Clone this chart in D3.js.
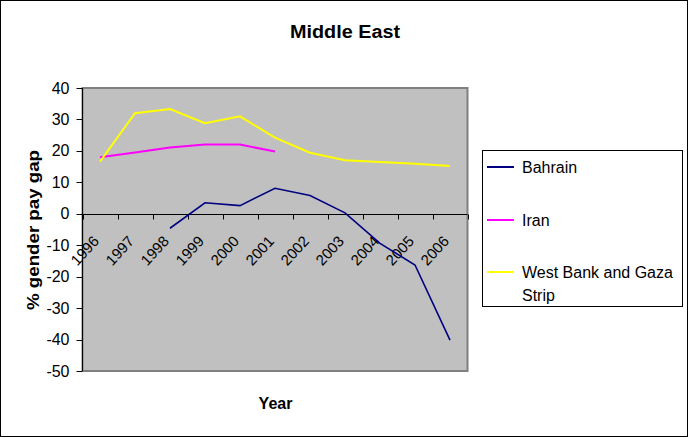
<!DOCTYPE html>
<html><head><meta charset="utf-8">
<script src="https://cdn.jsdelivr.net/npm/d3@7"></script>
<style>body{margin:0;background:#fff}svg{display:block;font-family:"Liberation Sans",Arial,sans-serif}</style>
</head><body>
<svg id="c" width="688" height="437"></svg>
<script>
const years = ["1996","1997","1998","1999","2000","2001","2002","2003","2004","2005","2006"];
const bahrain = [null,null,-4.6,3.5,2.6,8.1,5.8,0.3,-9.4,-16.3,-40.2];
const iran = [18.0,19.5,21.1,22.0,22.0,19.8,null,null,null,null,null];
const westBank = [16.6,32.0,33.3,28.8,31.0,24.2,19.4,17.0,16.5,15.9,15.2];
const yTicks = [40,30,20,10,0,-10,-20,-30,-40,-50];
const seriesNames = ["Bahrain","Iran","West Bank and Gaza Strip"];
const seriesColors = ["#000080","#FF00FF","#FFFF00"];

const svg = d3.select("#c");
svg.append("rect").attr("x",0.5).attr("y",0.5).attr("width",687).attr("height",436)
  .attr("fill","#fff").attr("stroke","#000");

const L=82.5, R=467.5, T=88, B=371;
const x = d3.scaleBand().domain(years).range([L,R]);
const y = d3.scaleLinear().domain([-50,40]).range([B,T]);

svg.append("rect").attr("x",L).attr("y",T).attr("width",R-L).attr("height",B-T)
  .attr("fill","#C0C0C0").attr("stroke","#808080").attr("stroke-width",2);

// y axis
const yAxis = svg.append("g");
yAxis.append("line").attr("x1",L).attr("x2",L).attr("y1",T).attr("y2",B).attr("stroke","#000");
yAxis.selectAll("line.t").data(yTicks).join("line").attr("class","t")
  .attr("x1",L-6).attr("x2",L).attr("y1",d=>Math.round(y(d))+0.5).attr("y2",d=>Math.round(y(d))+0.5).attr("stroke","#000");
yAxis.selectAll("text").data(yTicks).join("text")
  .attr("x",69.5).attr("y",d=>y(d)).attr("dy","0.35em").attr("text-anchor","end")
  .attr("font-size",16).text(d=>d);

// x axis at zero
const y0 = Math.round(y(0))+0.5;
svg.append("line").attr("x1",L).attr("x2",R).attr("y1",y0).attr("y2",y0).attr("stroke","#000");
const bounds = years.map(d=>x(d)).concat([R]);
svg.selectAll("line.xt").data(bounds).join("line").attr("class","xt")
  .attr("x1",d=>Math.round(d)+0.5).attr("x2",d=>Math.round(d)+0.5).attr("y1",y0).attr("y2",y0+5).attr("stroke","#000");
svg.selectAll("text.xl").data(years).join("text").attr("class","xl")
  .attr("transform",d=>`translate(${x(d)+x.bandwidth()/2},242) rotate(-47)`)
  .attr("text-anchor","end").attr("font-size",15).text(d=>d);

// lines
const lineGen = d3.line().defined(d=>d.v!=null).x(d=>x(d.yr)+x.bandwidth()/2).y(d=>y(d.v));
[bahrain,iran,westBank].forEach((arr,i)=>{
  const pts = years.map((yr,j)=>({yr,v:arr[j]}));
  svg.append("path").attr("d",lineGen(pts)).attr("fill","none")
    .attr("stroke",seriesColors[i]).attr("stroke-width",i===0?1.6:2).attr("stroke-linejoin","miter");
});

// titles
svg.append("text").attr("x",345).attr("y",38).attr("text-anchor","middle")
  .attr("font-size",18).attr("font-weight","bold").attr("textLength",110).attr("lengthAdjust","spacingAndGlyphs").text("Middle East");
svg.append("text").attr("x",275.5).attr("y",409).attr("text-anchor","middle")
  .attr("font-size",16).attr("font-weight","bold").text("Year");
svg.append("text").attr("transform","translate(39,230) rotate(-90)").attr("text-anchor","middle")
  .attr("font-size",16).attr("font-weight","bold").attr("textLength",160).attr("lengthAdjust","spacingAndGlyphs").text("% gender pay gap");

// legend
const lg = svg.append("g");
lg.append("rect").attr("x",482.5).attr("y",150.5).attr("width",200).attr("height",156)
  .attr("fill","#fff").attr("stroke","#000");
const legY = [167,220,272];
seriesNames.forEach((n,i)=>{
  lg.append("line").attr("x1",487).attr("x2",514).attr("y1",legY[i]).attr("y2",legY[i])
    .attr("stroke",seriesColors[i]).attr("stroke-width",2);
});
lg.append("text").attr("x",522).attr("y",167).attr("dy","0.35em").attr("font-size",16).text(seriesNames[0]);
lg.append("text").attr("x",522).attr("y",220).attr("dy","0.35em").attr("font-size",16).text(seriesNames[1]);
const t3 = lg.append("text").attr("x",522).attr("y",272).attr("dy","0.35em").attr("font-size",16);
t3.append("tspan").attr("x",522).text("West Bank and Gaza");
t3.append("tspan").attr("x",522).attr("dy",23).text("Strip");
</script>
</body></html>
